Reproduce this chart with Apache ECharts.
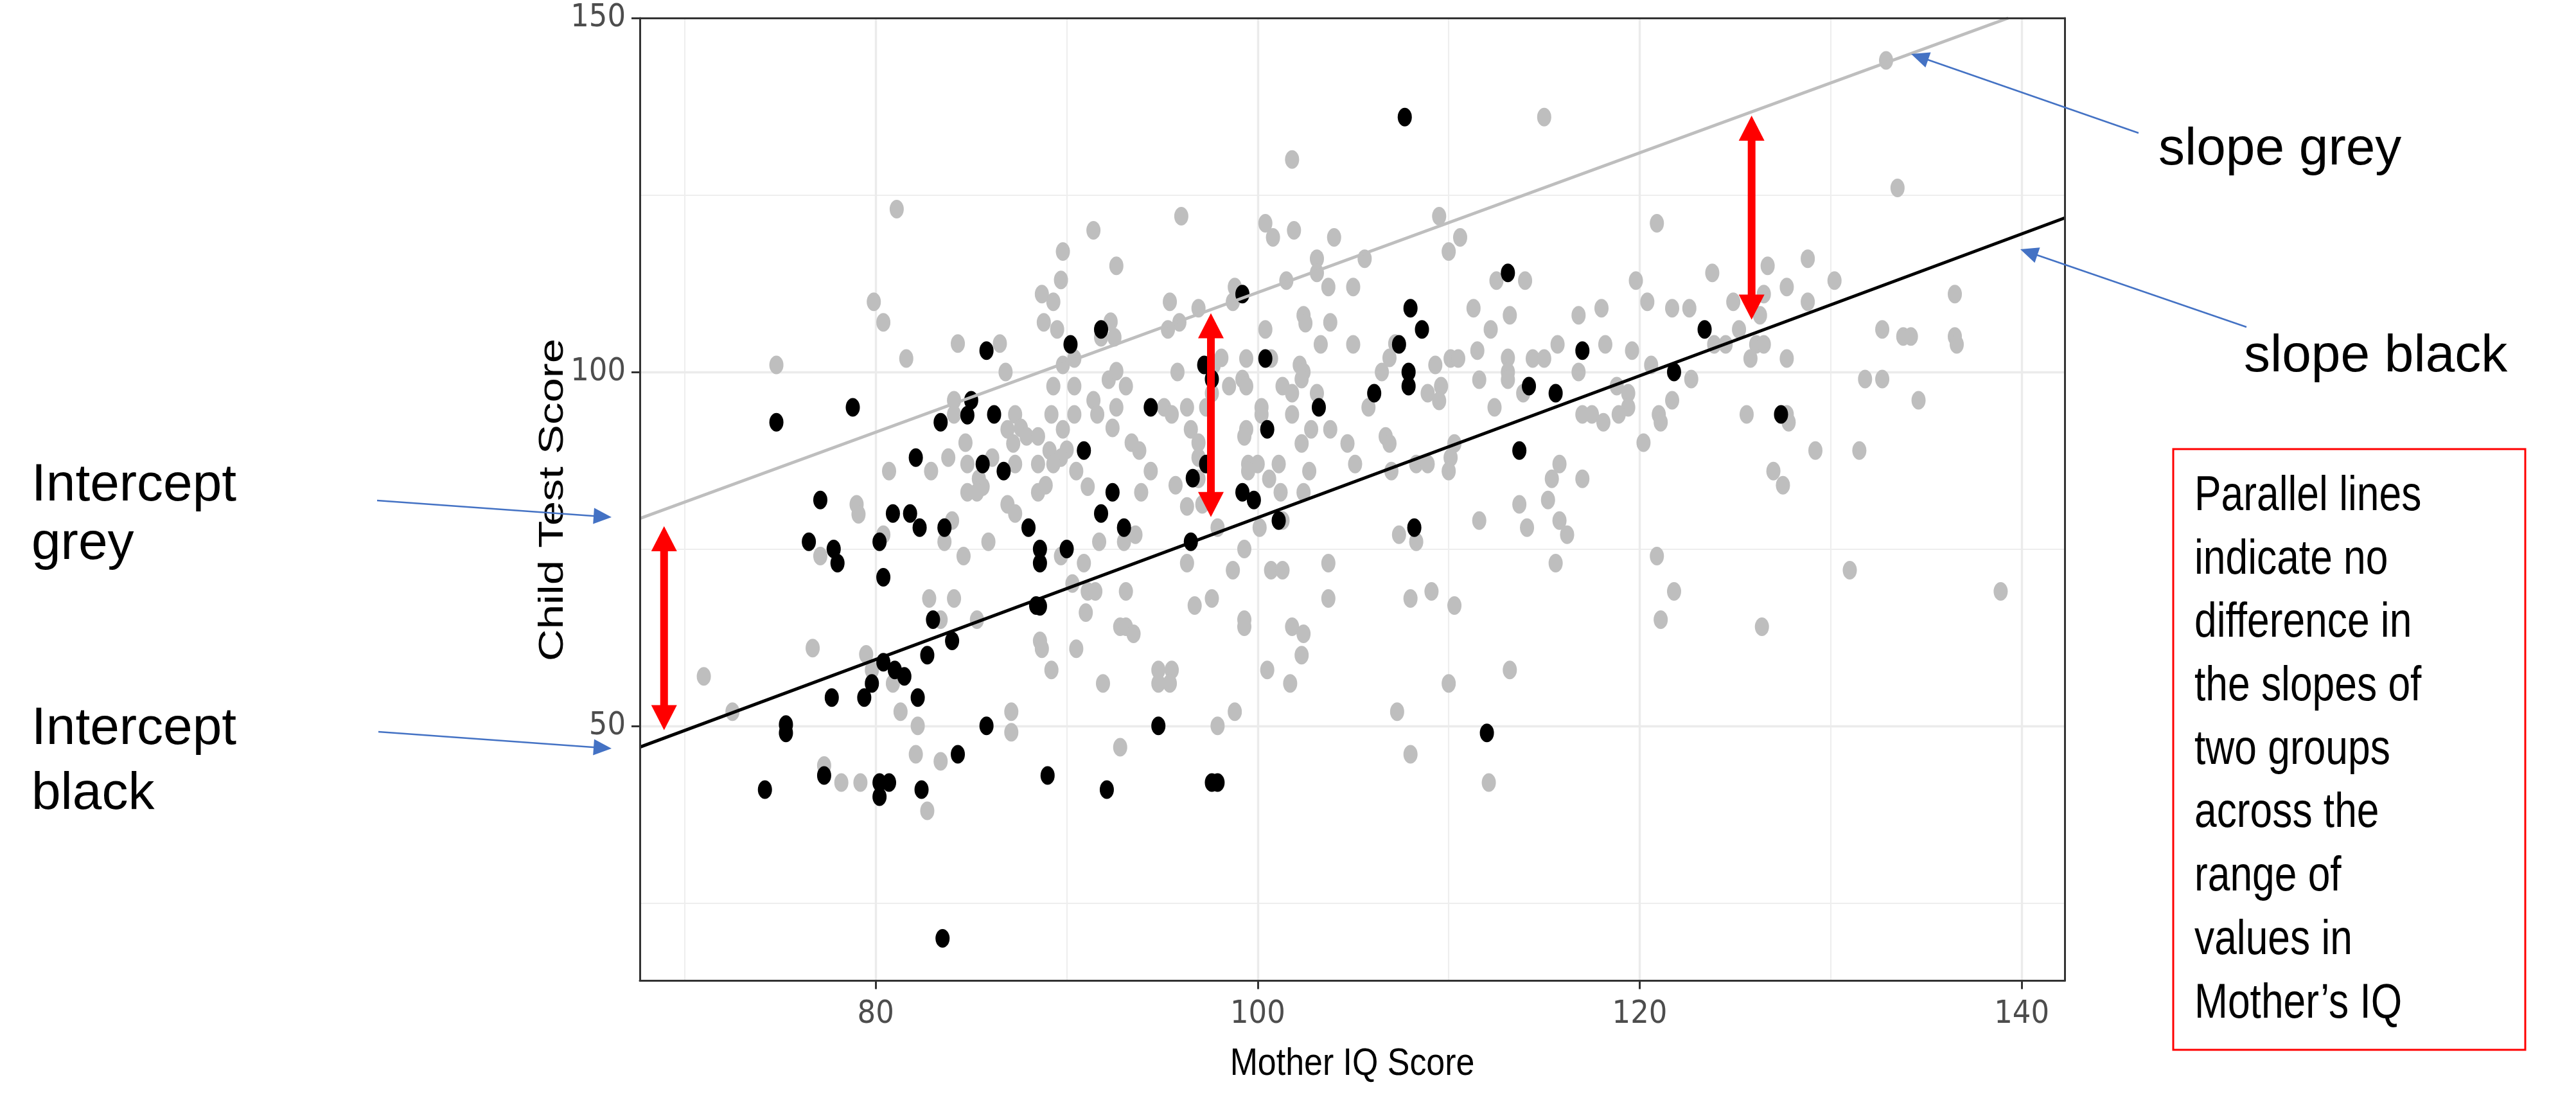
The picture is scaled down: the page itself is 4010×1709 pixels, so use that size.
<!DOCTYPE html>
<html><head><meta charset="utf-8">
<script src="https://cdn.jsdelivr.net/npm/echarts@6/dist/echarts.min.js"></script>
<style>html,body{margin:0;padding:0;background:#fff}#c{width:4010px;height:1709px}</style>
</head><body><div id="c"></div>
<script>
// ---------------- data ----------------
const xTicks = [80, 100, 120, 140];
const yTicks = [50, 100, 150];
const xMinorGrid = [70, 90, 110, 130];
const yMinorGrid = [25, 75, 125];
const xRange = [67.65, 142.25];
const yRange = [14, 150];

const greyPoints = [
[81.1,123.0],[91.4,120.0],[89.8,117.0],[92.6,115.0],[89.7,113.0],[88.7,111.0],[89.3,109.9],[79.9,109.9],[80.4,107.0],[88.8,107.0],
[89.5,106.0],[92.3,107.1],[91.8,104.9],[92.5,104.9],[84.3,104.0],[86.5,104.0],[81.6,101.9],[74.8,101.0],[86.8,100.0],[89.8,101.0],
[90.4,101.9],[92.2,98.9],[92.6,100.1],[89.3,98.0],[90.4,98.0],[91.4,96.0],[92.6,95.0],[84.1,96.0],[84.1,94.0],[87.3,94.0],
[89.2,94.0],[90.4,94.0],[91.6,94.0],[86.9,91.9],[87.6,92.1],[87.9,90.9],[88.5,90.9],[89.8,91.9],[92.4,92.1],[87.2,89.9],
[84.7,90.0],[89.1,88.9],[90.0,89.0],[89.7,87.9],[83.8,87.9],[86.1,87.9],[80.7,86.0],[82.9,86.0],[84.8,87.0],[87.3,87.0],
[88.5,87.0],[89.3,87.0],[90.5,86.0],[85.4,84.9],[85.6,83.8],[84.8,83.0],[85.3,83.0],[88.5,83.0],[88.9,84.0],[91.1,83.8],
[79.0,81.3],[86.9,81.3],
[115.0,136.0],[101.8,130.0],[96.0,122.0],[100.4,121.0],[100.8,119.0],[101.9,120.0],[104.0,119.0],[109.5,122.0],[110.6,119.0],[110.0,117.0],
[103.1,116.0],[103.1,114.0],[105.6,116.0],[101.5,112.9],[103.7,112.0],[105.0,112.0],[112.5,112.9],[114.0,112.9],[95.4,109.9],[96.9,109.0],
[98.8,112.0],[98.7,109.9],[95.9,107.0],[95.3,106.0],[100.4,106.0],[102.4,108.0],[102.5,106.9],[103.8,107.0],[111.3,109.0],[113.2,108.0],
[112.2,106.0],[116.8,108.0],[103.3,103.9],[105.0,103.9],[107.2,104.0],[106.9,102.0],[106.5,100.0],[109.3,101.0],[110.1,101.9],[110.5,101.9],
[111.5,103.0],[113.1,102.0],[113.1,100.0],[113.1,98.9],[114.4,101.9],[115.0,101.9],[115.7,103.9],[116.8,100.0],[111.6,98.9],[113.9,97.0],
[108.9,97.0],[109.6,98.0],[109.5,95.9],[105.8,95.0],[112.4,95.0],[117.0,94.0],[98.1,102.0],[97.7,101.0],[97.6,97.0],[95.8,100.0],
[93.1,98.0],[98.5,98.0],[99.2,99.0],[99.4,98.0],[99.4,101.9],[100.7,101.9],[102.2,101.0],[102.4,100.0],[102.3,99.0],[101.3,98.0],
[101.8,97.0],[103.1,97.0],[100.2,95.0],[100.2,94.0],[101.8,94.0],[95.1,95.0],[95.5,94.0],[96.3,95.0],[97.3,95.0],[96.5,91.9],
[96.9,90.0],[96.9,87.9],[93.4,90.0],[93.8,88.9],[99.4,91.9],[99.3,90.9],[102.3,89.9],[102.8,91.9],[103.8,91.9],[104.7,89.9],
[106.7,90.9],[106.9,89.9],[110.3,89.9],[110.1,87.9],[110.0,86.0],[108.3,87.0],[108.9,87.0],[107.0,86.0],[105.1,87.0],[101.1,87.0],
[99.5,87.0],[100.0,87.0],[99.5,86.0],[100.6,84.9],[102.7,86.0],[94.4,86.0],[95.7,84.0],[96.9,84.9],[93.9,83.0],[101.2,83.0],
[102.4,83.0],[115.8,87.0],[115.4,84.9],[117.0,84.9],[115.2,81.9],[113.7,81.3],
[132.9,144.0],[133.5,126.0],[120.9,121.0],[123.8,114.0],[126.7,115.0],[128.8,116.0],[119.8,112.9],[126.5,111.0],[127.7,112.0],[130.2,112.9],
[128.8,109.9],[120.4,109.9],[118.0,109.0],[121.7,109.0],[122.6,109.0],[124.9,109.9],[126.3,108.0],[125.2,106.0],[123.9,103.9],[124.5,103.9],
[126.1,103.9],[126.5,103.9],[125.8,101.9],[127.7,101.9],[118.2,103.9],[119.6,103.0],[120.6,101.0],[122.7,99.0],[118.8,98.0],[119.4,97.0],
[119.4,95.0],[118.9,94.0],[117.5,94.0],[118.1,92.9],[121.0,94.0],[121.1,92.9],[121.7,96.0],[120.2,90.0],[125.6,94.0],[127.7,94.0],
[127.8,92.9],[127.0,86.0],[127.5,84.0],[129.2,88.9],[131.5,88.9],[131.8,99.0],[132.7,99.0],[132.7,106.0],[133.8,105.0],[134.2,105.0],
[134.6,96.0],[136.5,111.0],[136.5,105.0],[136.6,103.9],
[120.9,74.0],[121.8,69.0],[121.1,65.0],[126.4,64.0],[131.0,72.0],[138.9,69.0],
[79.1,79.9],[84.0,79.0],[83.6,76.0],[77.1,74.0],[80.4,77.0],[84.6,74.0],[85.9,76.0],[87.3,80.0],[89.7,74.0],[90.9,73.0],
[91.7,76.0],[90.3,70.1],[91.1,69.0],[91.5,69.0],[91.0,66.0],[82.8,68.0],[84.1,68.0],[83.4,65.0],[85.3,65.0],[88.6,62.0],
[88.7,60.9],[90.5,60.9],[89.2,57.9],[91.9,56.0],[76.7,61.0],[79.5,60.1],[79.8,57.9],[80.9,56.0],[81.3,52.0],[82.2,50.0],
[71.0,57.0],[72.5,52.0],[87.1,52.0],[87.1,49.1],[82.1,46.0],[83.4,45.0],[77.3,44.4],[78.2,42.0],[79.2,42.0],[82.7,38.0],
[93.0,76.0],[93.6,77.0],[96.3,81.0],[97.1,81.3],[97.9,78.0],[100.1,78.0],[101.3,79.0],[96.3,73.0],[99.3,75.0],[98.7,72.0],
[100.7,72.0],[101.3,72.0],[103.7,73.0],[103.7,68.0],[93.1,69.0],[96.7,67.0],[97.6,68.0],[92.8,64.0],[93.1,64.0],[93.5,63.0],
[99.3,65.0],[99.3,64.0],[101.8,64.0],[102.4,63.0],[102.3,60.0],[100.5,57.9],[101.7,56.0],[94.8,57.9],[95.5,57.9],[94.8,56.0],
[95.4,56.0],[98.8,52.0],[97.9,50.0],[92.8,47.0],[107.4,77.0],[108.3,76.0],[111.6,79.0],[114.1,78.0],[115.8,79.0],[116.2,77.0],
[115.6,73.0],[108.0,68.0],[109.1,69.0],[110.3,67.0],[113.2,57.9],[110.0,56.0],[107.3,52.0],[108.0,46.0],[112.1,42.0]
];

const blackPoints = [
[91.8,106.0],[90.2,103.9],[85.8,103.0],[85.0,96.0],[78.8,95.0],[74.8,92.9],[84.8,93.9],[83.4,92.9],[86.2,94.0],[90.9,88.9],
[82.1,87.9],[85.6,87.0],[86.7,86.0],[92.4,83.0],[77.1,81.9],
[107.7,136.0],[113.1,114.0],[99.2,111.0],[108.0,109.0],[108.6,106.0],[107.4,103.9],[107.9,100.0],[107.9,98.0],[117.0,103.0],[114.2,98.0],
[115.6,97.0],[106.1,97.0],[97.2,101.0],[97.6,99.0],[100.4,101.9],[103.2,95.0],[94.4,95.0],[97.3,87.0],[100.5,91.9],[96.6,85.0],
[99.2,83.0],[99.8,81.9],[113.7,88.9],
[123.4,106.0],[121.8,100.0],[127.4,94.0],
[80.9,80.0],[81.8,80.0],[82.3,78.0],[83.6,78.0],[76.5,76.0],[77.8,75.0],[78.0,73.0],[80.2,76.0],[80.4,71.0],[88.0,78.0],
[88.6,75.0],[88.6,73.0],[90.0,75.0],[91.8,80.0],[83.0,65.0],[84.0,62.0],[82.7,60.0],[88.4,67.0],[88.6,66.9],[80.4,59.0],
[81.0,57.9],[81.5,57.0],[79.8,56.0],[77.7,54.0],[79.4,54.0],[82.2,54.0],[75.3,50.2],[75.3,49.0],[85.8,50.0],[84.3,46.0],
[74.2,41.0],[77.3,43.0],[80.2,42.0],[80.7,42.0],[80.2,40.0],[82.4,41.0],[89.0,43.0],[92.1,41.0],[83.5,20.0],
[93.0,78.0],[101.1,79.0],[96.5,76.0],[94.8,50.0],[97.6,42.0],[97.9,42.0],[108.2,78.0],[112.0,49.0]
];

// fitted lines (two visible end points each)
const greyLine = [[67.65, 79.3], [139.3, 150.0]];
const blackLine = [[67.65, 47.0], [142.25, 121.75]];
// red double arrows: [x, top tip y, bottom tip y]
const redArrows = [[68.92, 78.2, 49.4], [97.55, 108.3, 79.5], [125.86, 136.2, 107.4]];

const xTitle = 'Mother IQ Score';
const yTitle = 'Child Test Score';
const boxLines = ['Parallel lines', 'indicate no', 'difference in', 'the slopes of', 'two groups', 'across the', 'range of', 'values in', 'Mother\u2019s IQ'];

// ---------------- fonts ----------------
function hasFont(f) {
  const c = document.createElement('canvas').getContext('2d');
  const s = 'abcdefghijklmnopqrstuvwxyz0123456789';
  c.font = '72px monospace'; const a = c.measureText(s).width;
  c.font = '72px "' + f + '", monospace'; const b = c.measureText(s).width;
  return Math.abs(a - b) > 0.5;
}
let axisFont = 'Liberation Sans', axisSize = 50;
if (hasFont('Liberation Sans Narrow')) { axisFont = 'Liberation Sans Narrow'; axisSize = 54; }
else if (hasFont('Arial Narrow')) { axisFont = 'Arial Narrow'; axisSize = 54; }
else if (hasFont('DejaVu Sans Condensed')) { axisFont = 'DejaVu Sans Condensed'; axisSize = 50; }
const SANS = '"Liberation Sans", Arial, Helvetica, sans-serif';

// ---------------- chart ----------------
const chart = echarts.init(document.getElementById('c'), null, {width: 4010, height: 1709});

const axisLineStyle = {color: '#333333', width: 3};
const majorGrid = {color: '#ebebeb', width: 3.4, type: 'solid'};
const minorGrid = {color: '#eeeeee', width: 2.2, type: 'solid'};

const gridMarks = []
  .concat(xMinorGrid.map(v => ({xAxis: v, lineStyle: minorGrid})))
  .concat(yMinorGrid.map(v => ({yAxis: v, lineStyle: minorGrid})))
  .concat(xTicks.map(v => ({xAxis: v, lineStyle: majorGrid})))
  .concat(yTicks.filter(v => v < yRange[1]).map(v => ({yAxis: v, lineStyle: majorGrid})));

const dotPath = 'path://M1 0A1 1 0 1 1 -1 0A1 1 0 1 1 1 0Z';

function textEl(t, x, y, size, opts) {
  return Object.assign({
    type: 'text', x: x, y: y, z: 20, silent: true,
    style: {text: t, font: size + 'px ' + SANS, fill: '#000000',
      textAlign: 'left', align: 'left', textVerticalAlign: 'middle', verticalAlign: 'middle'}
  }, opts || {});
}
function blueArrow(x1, y1, x2, y2) {
  const dx = x2 - x1, dy = y2 - y1, L = Math.sqrt(dx * dx + dy * dy);
  const ux = dx / L, uy = dy / L, hl = 28, hw = 12.5;
  const bx = x2 - ux * hl, by = y2 - uy * hl;
  return [
    {type: 'line', z: 20, silent: true, shape: {x1: x1, y1: y1, x2: bx + ux * 2, y2: by + uy * 2},
      style: {stroke: '#4472c4', lineWidth: 2.5}},
    {type: 'polygon', z: 20, silent: true,
      shape: {points: [[x2, y2], [bx - uy * hw, by + ux * hw], [bx + uy * hw, by - ux * hw]]},
      style: {fill: '#4472c4'}}
  ];
}

const graphics = [
  textEl('Intercept', 49, 756, 82), textEl('grey', 49, 847, 82),
  textEl('Intercept', 49, 1135, 82), textEl('black', 49, 1236, 82),
  textEl('slope grey', 3360, 233, 82), textEl('slope black', 3493, 555, 82),
  {type: 'rect', z: 20, silent: true, shape: {x: 3383, y: 699, width: 548, height: 935},
    style: {fill: 'none', stroke: '#ff0000', lineWidth: 3}},
  // axis titles (squeezed like the reference)
  {type: 'text', x: 2105, y: 1656, z: 20, silent: true, scaleX: 0.865,
    style: {text: xTitle, font: '60px ' + SANS, fill: '#000', textAlign: 'center', align: 'center',
      textVerticalAlign: 'middle', verticalAlign: 'middle'}},
  {type: 'text', x: 861, y: 778, z: 20, silent: true, rotation: Math.PI / 2, scaleY: 0.77,
    style: {text: yTitle, font: '69px ' + SANS, fill: '#000', textAlign: 'center', align: 'center',
      textVerticalAlign: 'middle', verticalAlign: 'middle'}}
];
boxLines.forEach((t, i) => {
  graphics.push(textEl(t, 3416, 773 + i * 98.7, 76, {scaleX: 0.82}));
});
graphics.push(...blueArrow(587, 779, 952, 805));
graphics.push(...blueArrow(589, 1139, 952, 1165));
graphics.push(...blueArrow(3329, 207, 2975, 84));
graphics.push(...blueArrow(3497, 509, 3145, 388));

const option = {
  animation: false,
  backgroundColor: '#ffffff',
  grid: {left: 996, right: 796, top: 28, bottom: 182.5, outerBoundsMode: 'none'},
  xAxis: [{
    type: 'value', min: xRange[0], max: xRange[1], position: 'bottom', z: 10,
    axisLine: {show: true, onZero: false, lineStyle: axisLineStyle},
    axisTick: {show: true, length: 13, customValues: xTicks, lineStyle: {color: '#333333', width: 3}},
    axisLabel: {show: true, customValues: xTicks, margin: 28, fontSize: axisSize, fontFamily: axisFont, color: '#4d4d4d'},
    splitLine: {show: false}
  }, {
    type: 'value', min: xRange[0], max: xRange[1], position: 'top', z: 10,
    axisLine: {show: true, onZero: false, lineStyle: axisLineStyle},
    axisTick: {show: false}, axisLabel: {show: false}, splitLine: {show: false}
  }],
  yAxis: [{
    type: 'value', min: yRange[0], max: yRange[1], position: 'left', z: 10,
    axisLine: {show: true, onZero: false, lineStyle: axisLineStyle},
    axisTick: {show: true, length: 13, customValues: yTicks, lineStyle: {color: '#333333', width: 3}},
    axisLabel: {show: true, customValues: yTicks, margin: 22, fontSize: axisSize, fontFamily: axisFont, color: '#4d4d4d'},
    splitLine: {show: false}
  }, {
    type: 'value', min: yRange[0], max: yRange[1], position: 'right', z: 10,
    axisLine: {show: true, onZero: false, lineStyle: axisLineStyle},
    axisTick: {show: false}, axisLabel: {show: false}, splitLine: {show: false}
  }],
  series: [
    {
      name: 'grey', type: 'scatter', xAxisIndex: 0, yAxisIndex: 0, z: 2,
      symbol: dotPath, symbolSize: [22, 29], data: greyPoints,
      itemStyle: {color: '#bebebe', opacity: 1}, silent: true
    },
    {
      name: 'black', type: 'scatter', xAxisIndex: 0, yAxisIndex: 0, z: 3,
      symbol: dotPath, symbolSize: [22, 29], data: blackPoints,
      itemStyle: {color: '#000000', opacity: 1}, silent: true
    },
    {
      name: 'grey fit', type: 'line', xAxisIndex: 0, yAxisIndex: 0, z: 4, clip: true,
      data: greyLine, showSymbol: false, symbol: 'none', silent: true,
      lineStyle: {color: '#bebebe', width: 5},
      markLine: {silent: true, z: 1, symbol: ['none', 'none'], label: {show: false}, animation: false, data: gridMarks}
    },
    {
      name: 'black fit', type: 'line', xAxisIndex: 0, yAxisIndex: 0, z: 4, clip: true,
      data: blackLine, showSymbol: false, symbol: 'none', silent: true,
      lineStyle: {color: '#000000', width: 5}
    },
    {
      name: 'difference', type: 'custom', coordinateSystem: 'cartesian2d', xAxisIndex: 0, yAxisIndex: 0,
      z: 6, silent: true, data: redArrows, encode: {x: 0, y: [1, 2]},
      renderItem: function (params, api) {
        const x = api.value(0), p1 = api.coord([x, api.value(1)]), p2 = api.coord([x, api.value(2)]);
        const hw = 6, hh = 20, hl = 39;
        return {type: 'group', children: [
          {type: 'rect', shape: {x: p1[0] - hw, y: p1[1] + hl - 1, width: 2 * hw, height: (p2[1] - p1[1]) - 2 * hl + 2},
            style: {fill: '#ff0000'}},
          {type: 'polygon', shape: {points: [[p1[0], p1[1]], [p1[0] - hh, p1[1] + hl], [p1[0] + hh, p1[1] + hl]]},
            style: {fill: '#ff0000'}},
          {type: 'polygon', shape: {points: [[p2[0], p2[1]], [p2[0] - hh, p2[1] - hl], [p2[0] + hh, p2[1] - hl]]},
            style: {fill: '#ff0000'}}
        ]};
      }
    }
  ],
  graphic: {elements: graphics}
};
chart.setOption(option);
</script>
</body></html>
